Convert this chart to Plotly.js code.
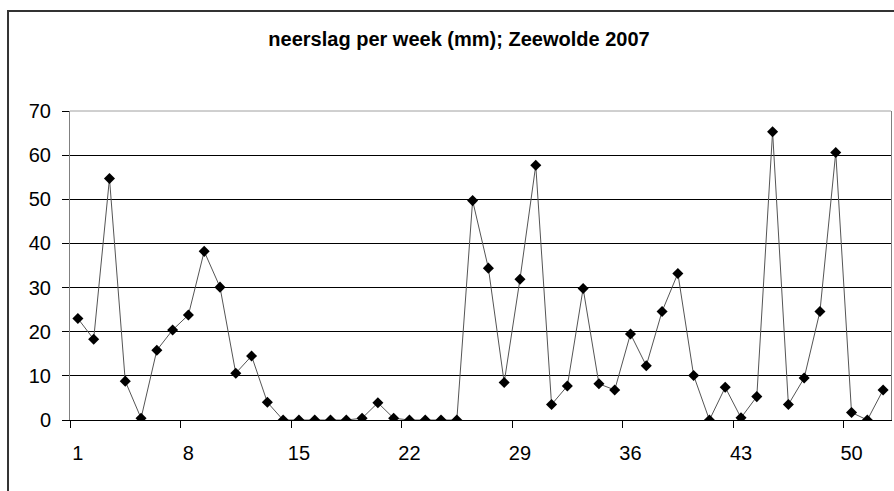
<!DOCTYPE html>
<html>
<head>
<meta charset="utf-8">
<script src="https://cdn.plot.ly/plotly-3.0.1.min.js"></script>
<style>html,body{margin:0;padding:0;background:#fff;}#chart{width:894px;height:491px;}</style>
</head>
<body>
<div id="chart"></div>
<script>
const weeks = Array.from({length: 52}, (_, i) => i + 1);
const neerslag = [23, 18.3, 54.7, 8.8, 0.4, 15.8, 20.4, 23.8, 38.2, 30.1,
  10.6, 14.5, 4.0, 0, 0, 0, 0, 0, 0.4, 3.9,
  0.4, 0, 0, 0, 0, 49.7, 34.4, 8.5, 31.9, 57.7,
  3.5, 7.7, 29.8, 8.2, 6.8, 19.5, 12.3, 24.6, 33.2, 10.1,
  0, 7.4, 0.5, 5.3, 65.3, 3.5, 9.5, 24.6, 60.6, 1.7,
  0, 6.8];
const xTickLabels = [1, 8, 15, 22, 29, 36, 43, 50];
const yTicks = [0, 10, 20, 30, 40, 50, 60, 70];
const titleText = 'neerslag per week (mm); Zeewolde 2007';

const trace = {
  x: weeks, y: neerslag, type: 'scatter', mode: 'lines+markers',
  line: {color: '#555555', width: 1},
  marker: {symbol: 'diamond', size: 8.5, color: '#000000'},
  hoverinfo: 'x+y'
};

const layout = {
  width: 894, height: 491,
  margin: {l: 70, r: 3, t: 111, b: 71},
  paper_bgcolor: '#ffffff', plot_bgcolor: '#ffffff',
  font: {family: 'Liberation Sans, Arial, sans-serif', color: '#000000', size: 20},
  showlegend: false,
  title: {text: '<b>' + titleText + '</b>', font: {size: 20, family: 'Liberation Sans, Arial, sans-serif'},
          x: 459 / 894, xanchor: 'center', xref: 'container', y: 1 - 39 / 491, yanchor: 'middle', yref: 'container'},
  xaxis: {
    range: [0.5, 52.5], tickmode: 'array', tickvals: xTickLabels, ticktext: xTickLabels.map(String),
    ticks: '', showgrid: false, zeroline: false,
    showline: true, linecolor: '#000000', linewidth: 1,
    ticklabelstandoff: 15,
    minor: {tickmode: 'linear', tick0: 0.5, dtick: 7, ticks: 'outside', ticklen: 7, tickcolor: '#000000', tickwidth: 1, showgrid: false},
    tickfont: {size: 20}
  },
  yaxis: {
    range: [0, 70], tickmode: 'array', tickvals: yTicks, ticktext: yTicks.map(String),
    ticks: 'outside', ticklen: 7, tickcolor: '#000000', tickwidth: 1,
    showgrid: true, gridcolor: '#000000', gridwidth: 1, zeroline: false,
    showline: true, linecolor: '#808080', linewidth: 1, mirror: true,
    ticklabelstandoff: 7,
    tickfont: {size: 20}
  },
  shapes: [
    {type: 'line', xref: 'paper', yref: 'paper', x0: 0, x1: 1, y0: 1, y1: 1, line: {color: '#a0a0a0', width: 1}, layer: 'above'},
    {type: 'rect', xref: 'paper', yref: 'paper', x0: -0.0755, x1: 1.1, y0: -0.4, y1: 1.3236, line: {color: '#333333', width: 2}, fillcolor: 'rgba(0,0,0,0)', layer: 'above'}
  ]
};

Plotly.newPlot('chart', [trace], layout, {displayModeBar: false, staticPlot: true});
</script>
</body>
</html>
